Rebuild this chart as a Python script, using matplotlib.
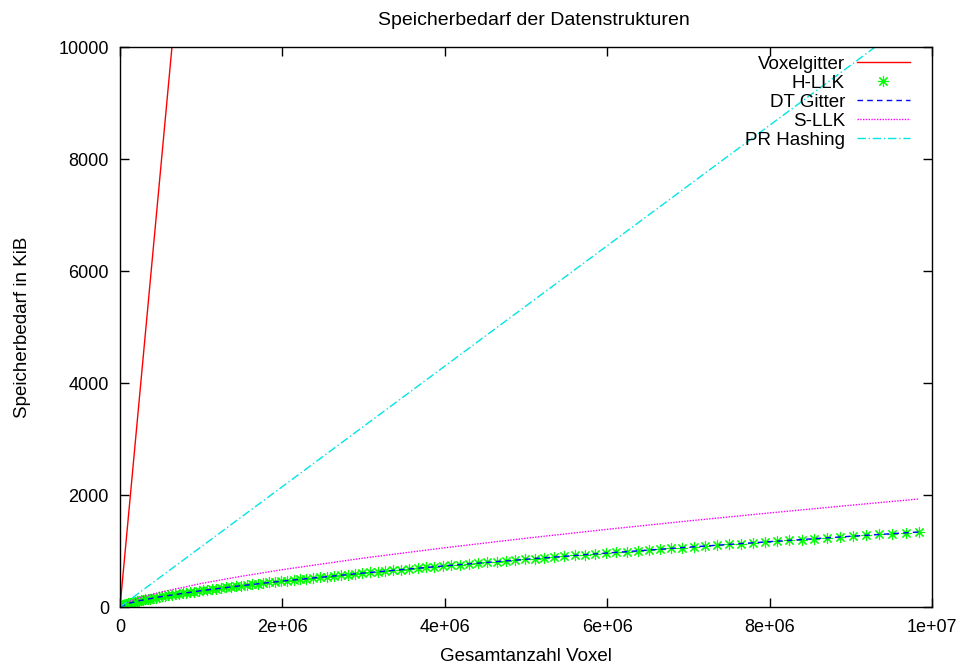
import numpy as np;

from matplotlib import pyplot as plt;
from matplotlib.ticker import FuncFormatter;

plt.rcParams[ "font.family" ] = [ "Liberation Sans", "DejaVu Sans" ];
plt.rcParams[ "font.size" ] = 13;

# Daten (Gesamtanzahl Voxel -> Speicherbedarf in KiB)
voxel_x = [ 0, 9840000 ];
voxel_y = [ 0, 153750 ];

# H-LLK Messpunkte, x in Tausend Voxel
hllk_x_k = [ 0, 1, 3, 6, 11, 18, 25, 35, 45, 57, 71, 86, 102, 119, 139, 159, 181, 204, 229, 255,
			 283, 312, 342, 374, 407, 442, 478, 515, 554, 594, 636, 679, 724, 770, 817, 866, 916, 968,
			 1020, 1075, 1131, 1188, 1247, 1307, 1368, 1431, 1495, 1561, 1628, 1697, 1767, 1838, 1911,
			 1985, 2061, 2138, 2216, 2296, 2377, 2460, 2544, 2630, 2717, 2805, 2895, 2986, 3078, 3172,
			 3268, 3365, 3463, 3562, 3664, 3766, 3870, 3975, 4082, 4190, 4300, 4411, 4523, 4637, 4752,
			 4868, 4986, 5106, 5227, 5349, 5473, 5598, 5724, 5852, 5982, 6112, 6244, 6378, 6513, 6649,
			 6787, 6926, 7067, 7209, 7352, 7497, 7644, 7791, 7940, 8091, 8243, 8396, 8551, 8707, 8865,
			 9024, 9184, 9346, 9509, 9674, 9840 ];
hllk_y = [ 0, 2, 6, 10, 15, 20, 25, 31, 37, 43, 50, 57, 64, 71, 78, 86, 93, 101, 109, 117,
		   126, 134, 143, 151, 160, 169, 178, 188, 197, 206, 216, 225, 235, 245, 255, 265, 275, 285,
		   296, 306, 317, 327, 338, 349, 360, 371, 382, 393, 404, 415, 426, 438, 449,
		   461, 473, 484, 496, 508, 520, 532, 544, 556, 568, 580, 593, 605, 617, 630,
		   643, 655, 668, 681, 693, 706, 719, 732, 745, 758, 772, 785, 798, 811, 825,
		   838, 852, 865, 879, 892, 906, 920, 934, 948, 961, 976, 989, 1004, 1018, 1032,
		   1046, 1060, 1075, 1089, 1103, 1118, 1132, 1147, 1161, 1176, 1191, 1205, 1220, 1235, 1250,
		   1265, 1280, 1295, 1310, 1325, 1340 ];

curve_x = [ 0, 100000, 250000, 500000, 1000000, 1500000, 2000000, 3000000, 4000000,
			5000000, 6000000, 7000000, 8000000, 9000000, 9840000 ];
dt_y = [ 0, 63, 116, 184, 292, 382, 463, 607, 735, 853, 964, 1068, 1167, 1263, 1340 ];
sllk_y = [ 0, 90, 167, 265, 420, 550, 667, 874, 1058, 1228, 1387, 1537, 1680, 1817, 1929 ];

pr_x = [ 0, 9840000 ];
pr_y = [ 0, 10580 ];

labels = [ "Voxelgitter", "H-LLK", "DT Gitter", "S-LLK", "PR Hashing" ];

fig = plt.figure( figsize = ( 9.64, 6.64 ), dpi = 100 );
ax = fig.add_axes( [ 120 / 964, 57 / 664, 812 / 964, 560 / 664 ] );

ax.plot( voxel_x, voxel_y, color = "#ff0000", linewidth = 1.0, label = labels[ 0 ] );
ax.plot( np.array( hllk_x_k ) * 1000, hllk_y, linestyle = "none", marker = ( 8, 2, 0 ),
		 markersize = 8, markeredgewidth = 0.8, color = "#00ff00", label = labels[ 1 ] );
ax.plot( curve_x, dt_y, color = "#0000ff", linewidth = 1.0, linestyle = ( 0, ( 4, 3 ) ),
		 label = labels[ 2 ] );
ax.plot( curve_x, sllk_y, color = "#ff00ff", linewidth = 1.0, linestyle = ( 0, ( 1, 1 ) ),
		 label = labels[ 3 ] );
ax.plot( pr_x, pr_y, color = "#00e5e5", linewidth = 1.0, linestyle = ( 0, ( 6, 2, 1, 2 ) ),
		 label = labels[ 4 ] );

# Achsen
ax.set_xlim( 0, 1e7 );
ax.set_ylim( 0, 10000 );
ax.set_xticks( [ 0, 2e6, 4e6, 6e6, 8e6, 1e7 ] );
ax.set_yticks( [ 0, 2000, 4000, 6000, 8000, 10000 ] );
ax.xaxis.set_major_formatter( FuncFormatter( lambda v, p: "%g" % v ) );
ax.tick_params( axis = "both", direction = "in", top = True, right = True,
				length = 6.5, width = 1.0, labelsize = 13 );
ax.tick_params( axis = "x", pad = 9 );
ax.tick_params( axis = "y", pad = 8 );
for s in ax.spines.values():
	s.set_linewidth( 1.0 );

ax.set_title( "Speicherbedarf der Datenstrukturen", pad = 16, fontsize = 14, x = 0.51 );
ax.set_xlabel( "Gesamtanzahl Voxel", fontsize = 13.5 );
ax.set_ylabel( "Speicherbedarf in KiB", fontsize = 13.5 );
ax.xaxis.set_label_coords( 0.5, -0.073 );
ax.yaxis.set_label_coords( -0.109, 0.5 );

ax.legend( loc = "upper right", bbox_to_anchor = ( 0.9775, 0.9916 ), frameon = False,
		   markerfirst = False, handlelength = 2.83, handletextpad = 0.64, labelspacing = 0.1,
		   borderpad = 0.2, borderaxespad = 0.0, fontsize = 13.5 );

fig.savefig( "out.png", dpi = 100 );
